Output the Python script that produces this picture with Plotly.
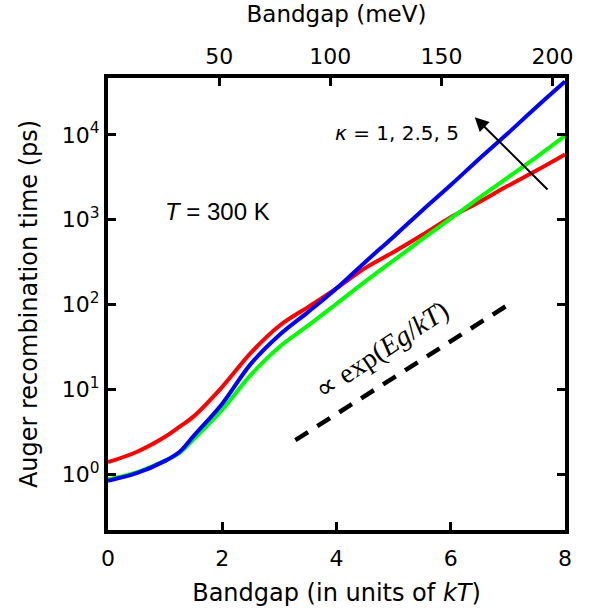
import plotly.graph_objects as go

# Bandgap in units of kT
grid_x = [0, 0.5, 1.0, 1.25, 1.5, 2.0, 2.5, 3.0, 3.5, 4.0, 4.5, 5.0, 5.5, 6.0, 6.5, 7.0, 7.5, 8.0]

red_y = [1.38, 1.82, 2.75, 3.6, 4.79, 10.7, 26.9, 56.2, 93.3, 155, 269, 417, 661, 1070, 1622, 2512, 3802, 5888]
green_y = [0.865, 1.047, 1.445, 1.76, 2.57, 5.75, 14.8, 31.6, 56.2, 102, 186, 331, 589, 1035, 1820, 3162, 5495, 9772]
blue_y = [0.834, 1.023, 1.43, 1.82, 2.82, 6.76, 19.95, 43.7, 81.3, 155, 316, 631, 1288, 2570, 5248, 10470, 21380, 42660]

guide_x = [3.28, 7.08]
guide_y = [2.51, 107]

kT_meV = 25.7
x_ticks = [0, 2, 4, 6, 8]
top_ticks = [50, 100, 150, 200]
y_ticks = [1, 10, 100, 1000, 10000]
y_ticktext = ["10<sup>0</sup>", "10<sup>1</sup>", "10<sup>2</sup>", "10<sup>3</sup>", "10<sup>4</sup>"]

FONT = "DejaVu Sans"

fig = go.Figure()
for ys, col in [(red_y, "#ff0000"), (green_y, "#00ff00"), (blue_y, "#0000ff")]:
    fig.add_trace(go.Scatter(x=grid_x, y=ys, mode="lines", line=dict(color=col, width=4, shape="spline", smoothing=1.0),
                             showlegend=False, hoverinfo="skip"))

fig.add_trace(go.Scatter(x=guide_x, y=guide_y, mode="lines", line=dict(color="black", width=4.5, dash="15px,11px"),
                         showlegend=False, hoverinfo="skip"))

# invisible trace for top axis
fig.add_trace(go.Scatter(x=[0, 8 * kT_meV], y=[1, 1], xaxis="x2", mode="lines", line=dict(width=0),
                         showlegend=False, hoverinfo="skip", opacity=0))

fig.update_layout(
    width=589, height=612,
    margin=dict(l=108, r=24, t=78, b=82),
    plot_bgcolor="white", paper_bgcolor="white",
    font=dict(family=FONT, size=22, color="black"),
    xaxis=dict(range=[0, 8], tickvals=x_ticks, ticks="inside", ticklen=8, tickwidth=3, tickcolor="black",
               showline=True, linecolor="black", linewidth=4, mirror=True, showgrid=False, zeroline=False,
               tickfont=dict(size=22), ticklabelstandoff=6, automargin=False,
               title=dict(text="Bandgap (in units of <i>kT</i>)", font=dict(size=24), standoff=15)),
    xaxis2=dict(range=[0, 8 * kT_meV], overlaying="x", side="top", tickvals=top_ticks, ticks="inside", ticklen=8,
                tickwidth=3, tickcolor="black", showline=False, showgrid=False, zeroline=False,
                tickfont=dict(size=22), ticklabelstandoff=9, automargin=False,
                title=dict(text="Bandgap (meV)", font=dict(size=23), standoff=14)),
    yaxis=dict(type="log", range=[-0.66, 4.672], tickvals=y_ticks, ticktext=y_ticktext, ticks="inside",
               ticklen=8, tickwidth=3, tickcolor="black", showline=True, linecolor="black", linewidth=4,
               mirror="ticks", showgrid=False, zeroline=False, tickfont=dict(size=22), automargin=False,
               title=dict(text="Auger recombination time (ps)", font=dict(size=24), standoff=18)),
)

fig.add_annotation(x=1.92, y=3.10, xref="x", yref="y", text="<i>T</i> = 300 K", showarrow=False,
                   font=dict(family="Liberation Sans", size=24))
fig.add_annotation(x=5.06, y=4.02, xref="x", yref="y", text="<i>κ</i> = 1, 2.5, 5", showarrow=False,
                   font=dict(family=FONT, size=20))
fig.add_annotation(x=4.79, y=1.474, xref="x", yref="y", text="∝ exp(<i>Eg</i>/<i>kT</i>)", showarrow=False,
                   textangle=-33.5, font=dict(family="Liberation Serif", size=28))
fig.add_annotation(x=6.42, y=4.21, xref="x", yref="y", ax=7.72, ay=3.34, axref="x", ayref="y", text="",
                   showarrow=True, arrowhead=2, arrowsize=1.4, arrowwidth=2, arrowcolor="black")

fig.write_html("out.html")
